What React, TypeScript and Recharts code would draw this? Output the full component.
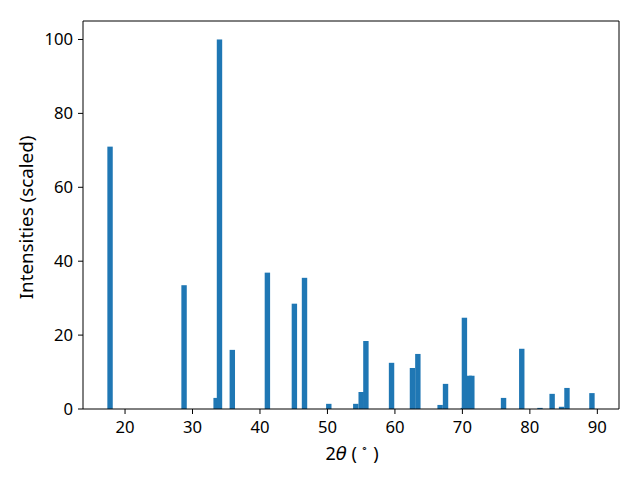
import React from "react";
import { BarChart, Bar, XAxis, YAxis, Label, ReferenceLine } from "recharts";

const twoTheta = [
  17.78, 28.75, 33.5, 34.0, 35.9, 41.1, 45.1, 46.6, 50.2, 54.2, 55.0, 55.7, 59.5, 62.6,
  63.4, 66.7, 67.5, 70.15, 70.3, 71.0, 71.4, 76.1, 78.8, 81.5, 83.3, 84.7, 85.5, 89.2,
];
const intensity = [
  71, 33.5, 3, 100, 16, 36.9, 28.5, 35.5, 1.4, 1.4, 4.6, 18.4, 12.5, 11.1,
  14.9, 1.1, 6.8, 0.3, 24.7, 9.0, 9.0, 3.0, 16.3, 0.3, 4.1, 0.6, 5.7, 4.3,
];
const xTicks = [20, 30, 40, 50, 60, 70, 80, 90];
const yTicks = [0, 20, 40, 60, 80, 100];
const xDomain = [13.77, 93.21];
const yDomain = [0, 105];

const data = twoTheta.map((t, i) => ({ t, v: intensity[i] }));

const FONT = "'Noto Sans', 'Open Sans', sans-serif";
const FS = 16.67;
const BLUE = "#1f77b4";
const BAR_PX = 5.4; // 0.8 deg wide bars

function BarShape(props: any) {
  const { x, y, width, height } = props;
  if (!height) return null;
  const cx = x + width / 2;
  return <rect x={cx - BAR_PX / 2} y={y} width={BAR_PX} height={height} fill={BLUE} />;
}

const tick = { fill: "#000", fontSize: FS, fontFamily: FONT };

export default function App() {
  return (
    <div style={{ position: "absolute", left: 0, top: 0, background: "#fff" }}>
      <BarChart
        width={640}
        height={480}
        data={data}
        margin={{ top: 21, right: 21, bottom: 0, left: 0 }}
        barCategoryGap={0}
      >
        <XAxis
          dataKey="t"
          type="number"
          domain={xDomain}
          ticks={xTicks}
          allowDataOverflow
          height={71}
          tick={tick}
          tickSize={5}
          tickMargin={7.5}
          stroke="#000"
          interval={0}
        >
          <Label
            content={({ viewBox }: any) => {
              const cx = viewBox.x + viewBox.width / 2 + 1;
              const cy = viewBox.y + 43.5;
              return (
                <text x={cx} y={cy} textAnchor="middle" dominantBaseline="central" fontFamily={FONT} fontSize={18} fill="#000">
                  2<tspan fontStyle="italic" fontFamily="DejaVu Sans">θ</tspan> ( <tspan fontSize={11} dy={-6}>∘</tspan><tspan dy={6}> )</tspan>
                </text>
              );
            }}
          />
        </XAxis>
        <YAxis
          type="number"
          domain={yDomain}
          ticks={yTicks}
          allowDataOverflow
          width={83}
          tick={tick}
          tickSize={5}
          tickMargin={5}
          stroke="#000"
          interval={0}
        >
          <Label
            content={({ viewBox }: any) => {
              const cx = viewBox.x + 26;
              const cy = viewBox.y + viewBox.height / 2 + 2.5;
              return (
                <text
                  x={cx}
                  y={cy}
                  transform={`rotate(-90 ${cx} ${cy})`}
                  textAnchor="middle"
                  dominantBaseline="central"
                  fontFamily={FONT}
                  fontSize={18.8}
                  fill="#000"
                >
                  Intensities (scaled)
                </text>
              );
            }}
          />
        </YAxis>
        <Bar dataKey="v" fill={BLUE} shape={BarShape} isAnimationActive={false} />
        <ReferenceLine y={yDomain[1]} stroke="#000" ifOverflow="visible" />
        <ReferenceLine x={xDomain[1]} stroke="#000" ifOverflow="visible" />
      </BarChart>
    </div>
  );
}
